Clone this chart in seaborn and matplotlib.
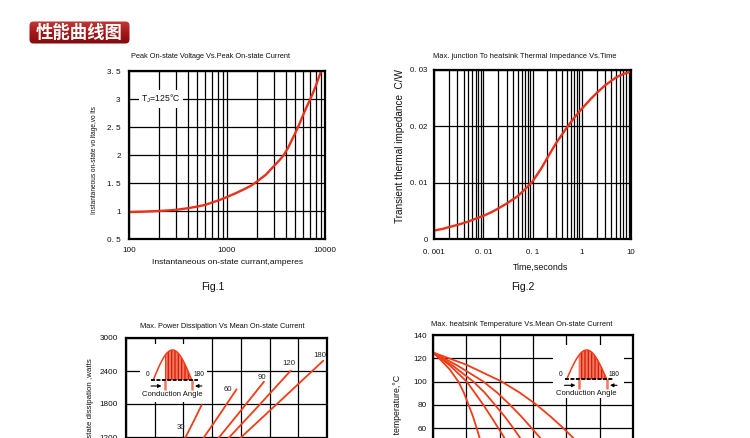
import numpy as np
import pandas as pd
import matplotlib
matplotlib.use("Agg")
import matplotlib.pyplot as plt
import seaborn as sns
from matplotlib.patches import FancyBboxPatch
from matplotlib.colors import LinearSegmentedColormap
from matplotlib.ticker import LogLocator, NullFormatter

# ---- data ----
# Fig.1  peak on-state voltage vs current (log x)
fig1_current = [100, 150, 200, 250, 300, 400, 500, 600, 700, 850, 1000, 1200, 1500, 1750, 2000,
                2500, 3000, 3400, 3800, 4200, 4600, 5000, 5500, 6000, 6500, 7000, 7500, 8000,
                8500, 9000, 9200]
fig1_voltage = [0.98, 0.99, 1.0, 1.01, 1.02, 1.05, 1.08, 1.11, 1.15, 1.2, 1.25, 1.31, 1.39, 1.45,
                1.52, 1.65, 1.8, 1.9, 2.0, 2.13, 2.27, 2.4, 2.56, 2.72, 2.86, 2.98, 3.1, 3.22,
                3.35, 3.47, 3.52]
fig1_yticks = [0.5, 1, 1.5, 2, 2.5, 3, 3.5]
fig1_ylabels = ["0. 5", "1", "1. 5", "2", "2. 5", "3", "3. 5"]
fig1_xticks = [100, 1000, 10000]
fig1_xlabels = ["100", "1000", "10000"]

# Fig.2  transient thermal impedance vs time (log x)
fig2_time = [0.001, 0.0015, 0.002, 0.003, 0.005, 0.007, 0.01, 0.015, 0.02, 0.03, 0.05, 0.07,
             0.1, 0.15, 0.2, 0.3, 0.5, 0.7, 1, 1.5, 2, 3, 5, 7, 10]
fig2_zth = [0.0015, 0.0018, 0.0021, 0.0025, 0.0031, 0.0036, 0.0041, 0.0048, 0.0054, 0.0063,
            0.0076, 0.0088, 0.0102, 0.0125, 0.0144, 0.0170, 0.0198, 0.0215, 0.0231, 0.0248,
            0.0259, 0.0273, 0.0287, 0.0293, 0.0297]
fig2_yticks = [0, 0.01, 0.02, 0.03]
fig2_ylabels = ["0", "0. 01", "0. 02", "0. 03"]
fig2_xticks = [0.001, 0.01, 0.1, 1, 10]
fig2_xlabels = ["0. 001", "0. 01", "0. 1", "1", "10"]

# Fig.3  power dissipation vs mean current, one curve per conduction angle
fig3_angles = ["30", "60", "90", "120", "180"]
fig3_current = [
    [0, 200, 300, 411, 470, 527],
    [0, 200, 400, 538, 650, 770],
    [0, 250, 450, 643, 800, 961],
    [0, 300, 500, 713, 930, 1147],
    [0, 300, 550, 794, 1080, 1374],
]
fig3_power = [
    [0, 380, 680, 1176, 1480, 1782],
    [0, 300, 750, 1176, 1600, 2067],
    [0, 320, 700, 1176, 1680, 2206],
    [0, 340, 680, 1176, 1785, 2406],
    [0, 300, 650, 1176, 1870, 2587],
]
fig3_label_at = [(380, 1376), (713, 2055), (950, 2285), (1131, 2540), (1351, 2690)]
fig3_yticks = [0, 600, 1200, 1800, 2400, 3000]

# Fig.4  heatsink temperature vs mean current
fig4_current = [
    [0, 50, 100, 152, 185, 212, 240, 262, 285, 300],
    [0, 100, 202, 250, 302, 350, 392, 440, 460],
    [0, 120, 242, 310, 372, 430, 482, 540, 560],
    [0, 150, 302, 385, 462, 530, 592, 665, 690],
    [0, 200, 412, 520, 622, 705, 782, 860, 890],
]
fig4_temp = [
    [125, 118, 110.5, 100, 90.5, 80.5, 70, 60, 49, 42],
    [125, 114, 100, 90.5, 80, 69.5, 60, 49, 44],
    [125, 113.5, 100, 90.5, 80, 70, 60, 48, 44],
    [125, 113.5, 100, 90.5, 80, 70, 60, 48, 44],
    [125, 114.5, 100, 90.5, 80, 70, 60, 49, 45],
]
fig4_yticks = [0, 20, 40, 60, 80, 100, 120, 140]

RED = "#e8321c"
RED2 = "#f23c16"
INK = "#111111"

sns.set_style("white")
plt.rcParams["font.family"] = ["Liberation Sans", "DejaVu Sans"]
plt.rcParams["mathtext.default"] = "regular"
plt.rcParams["hatch.linewidth"] = 0.9

W, H = 750, 438
fig = plt.figure(figsize=(7.5, 4.38), dpi=100)
fig.patch.set_facecolor("white")


def px_axes(left, top, right, bottom):
    return fig.add_axes([left / W, 1 - bottom / H, (right - left) / W, (bottom - top) / H])


def txt(x, y, s, size, **kw):
    kw.setdefault("ha", "center")
    kw.setdefault("va", "center")
    fig.text(x / W, 1 - y / H, s, fontsize=size, color=INK, **kw)


def frame(ax, xpad, ypad, size):
    for s in ax.spines.values():
        s.set_visible(True)
        s.set_linewidth(1.6)
        s.set_color("black")
    ax.tick_params(which="both", length=0, labelsize=size, colors=INK)
    ax.tick_params(axis="x", pad=xpad)
    ax.tick_params(axis="y", pad=ypad)
    ax.set_axisbelow(True)
    ax.set_xlabel("")
    ax.set_ylabel("")


def conduction_inset(left, top, right, bottom, x0, yb, w, peak):
    # small white panel with the half-sine conduction angle sketch
    iax = px_axes(left, top, right, bottom)
    iax.set_zorder(5)
    iax.set_facecolor("white")
    iax.set_xlim(0, right - left)
    iax.set_ylim(bottom - top, 0)
    iax.set_xticks([])
    iax.set_yticks([])
    for s in iax.spines.values():
        s.set_visible(False)
    t = np.linspace(0, np.pi, 80)
    xs = x0 + w * t / np.pi
    ys = yb - peak * np.sin(t)
    cut = x0 + 0.3 * w
    m = xs >= cut
    iax.fill_between(xs[m], ys[m], yb, facecolor="#f47a5c", edgecolor="#d8160c",
                     hatch="|||||", linewidth=0)
    iax.plot(xs, ys, color=RED2, lw=1.1)
    for xc in (cut, x0 + w):
        iax.plot([xc, xc], [yb, yb + 10], color="#f2785a", lw=1.8, solid_capstyle="butt")
    iax.plot([x0 - 2, x0 + w + 6], [yb, yb], color="black", lw=1.3, ls=(0, (2.2, 0.8)))
    iax.annotate("", xy=(cut - 0.5, yb + 6), xytext=(x0 - 5, yb + 6),
                 arrowprops=dict(arrowstyle="-|>", color="black", lw=0.8, mutation_scale=5))
    iax.annotate("", xy=(x0 + w + 0.5, yb + 6), xytext=(x0 + w + 13, yb + 6),
                 arrowprops=dict(arrowstyle="-|>", color="black", lw=0.8, mutation_scale=5))
    iax.text(x0 - 6, yb - 5, "0", fontsize=4.8, ha="center", va="center", color=INK)
    iax.text(x0 + w + 7, yb - 5, "180", fontsize=4.8, ha="center", va="center", color=INK)
    iax.text(x0 + w / 2, yb + 14, "Conduction Angle", fontsize=5.5, ha="center", va="center",
             color=INK)


# ---- header badge ----
hax = px_axes(29, 21, 130, 44)
hax.set_xlim(0, 101)
hax.set_ylim(0, 23)
hax.axis("off")
badge = FancyBboxPatch((0.5, 0.5), 100, 22, boxstyle="round,pad=0,rounding_size=4",
                       facecolor="none", edgecolor="none")
hax.add_patch(badge)
grad = np.linspace(0, 1, 60).reshape(-1, 1)
cmap = LinearSegmentedColormap.from_list("badge", ["#850a0c", "#a5181a", "#c23a36"])
im = hax.imshow(grad, extent=(0, 101, 0, 23), aspect="auto", cmap=cmap, origin="lower")
im.set_clip_path(badge)
hax.text(50.5, 11.3, "性能曲线图", color="white", fontsize=12.5, fontweight="bold",
         ha="center", va="center", family=["Noto Sans CJK SC", "DejaVu Sans"])

# ---- Fig.1 ----
ax1 = px_axes(129, 71, 325, 239)
ax1.set_xscale("log")
sns.lineplot(x=fig1_current, y=fig1_voltage, ax=ax1, color=RED, linewidth=1.7)
ax1.set_xlim(100, 10000)
ax1.set_ylim(0.5, 3.5)
ax1.set_yticks(fig1_yticks)
ax1.set_yticklabels(fig1_ylabels)
ax1.set_xticks(fig1_xticks)
ax1.set_xticklabels(fig1_xlabels)
ax1.xaxis.set_minor_locator(LogLocator(base=10, subs=np.arange(2, 10), numticks=20))
ax1.xaxis.set_minor_formatter(NullFormatter())
ax1.grid(axis="x", which="both", color="black", linewidth=0.9)
ax1.grid(axis="y", which="major", color="black", linewidth=0.9)
frame(ax1, 6, 6, 5.9)
ax1.text(133, 3.0, r"T$_J$=125$\degree$C", fontsize=6.2, ha="left", va="center", color=INK,
         bbox=dict(facecolor="white", edgecolor="none", pad=1.8))

txt(210, 57, "Peak On-state Voltage Vs.Peak On-state Current", 5.35)
txt(228, 262, "Instantaneous on-state currant,amperes", 6.1)
txt(94, 160, "Instantaneous on-state vo ltage,vo lts", 4.7, rotation=90)
txt(213, 287, "Fig.1", 7.6)

# ---- Fig.2 ----
ax2 = px_axes(434, 70, 631, 239)
ax2.set_xscale("log")
sns.lineplot(x=fig2_time, y=fig2_zth, ax=ax2, color=RED, linewidth=1.7)
ax2.set_xlim(0.001, 10)
ax2.set_ylim(0, 0.03)
ax2.set_yticks(fig2_yticks)
ax2.set_yticklabels(fig2_ylabels)
ax2.set_xticks(fig2_xticks)
ax2.set_xticklabels(fig2_xlabels)
ax2.xaxis.set_minor_locator(LogLocator(base=10, subs=np.arange(2, 10), numticks=20))
ax2.xaxis.set_minor_formatter(NullFormatter())
ax2.grid(axis="x", which="both", color="black", linewidth=0.9)
ax2.grid(axis="y", which="major", color="black", linewidth=0.9)
frame(ax2, 7, 4.5, 5.7)

txt(525, 56, "Max. junction To heatsink Thermal Impedance Vs.Time", 5.4)
txt(541, 267, "Time,seconds", 6.4)
txt(400, 146, "Transient thermal impedance  C/W", 7.2, rotation=90)
txt(523, 287, "Fig.2", 7.6)

# ---- Fig.3 (cut by the bottom edge) ----
ax3 = px_axes(126, 338, 327, 503)
df3 = pd.DataFrame({
    "current": sum(fig3_current, []),
    "power": sum(fig3_power, []),
    "angle": sum([[a] * len(c) for a, c in zip(fig3_angles, fig3_current)], []),
})
sns.lineplot(data=df3, x="current", y="power", hue="angle", palette=[RED2] * 5,
             legend=False, ax=ax3, linewidth=1.3)
ax3.set_xlim(0, 1400)
ax3.set_ylim(0, 3000)
ax3.set_xticks(np.arange(0, 1401, 200))
ax3.set_xticklabels([])
ax3.set_yticks(fig3_yticks)
ax3.grid(color="black", linewidth=0.9)
frame(ax3, 6, 6, 5.9)
for a, (lx, ly) in zip(fig3_angles, fig3_label_at):
    ax3.text(lx, ly, a, fontsize=5.6, ha="center", va="center", color="#222222")
conduction_inset(140, 344, 207, 402, 13.3, 36, 38.4, 30)

txt(222, 326, "Max. Power Dissipation Vs Mean On-state Current", 5.35)
txt(90, 358, "Mean on-state dissipation ,watts", 5.7, rotation=90, va="top")

# ---- Fig.4 (cut by the bottom edge) ----
ax4 = px_axes(433, 335, 633, 498)
df4 = pd.DataFrame({
    "current": sum(fig4_current, []),
    "temp": sum(fig4_temp, []),
    "angle": sum([[a] * len(c) for a, c in zip(fig3_angles, fig4_current)], []),
})
sns.lineplot(data=df4, x="current", y="temp", hue="angle", palette=[RED2] * 5,
             legend=False, ax=ax4, linewidth=1.3)
ax4.set_xlim(0, 1200)
ax4.set_ylim(0, 140)
ax4.set_xticks(np.arange(0, 1201, 200))
ax4.set_xticklabels([])
ax4.set_yticks(fig4_yticks)
ax4.grid(color="black", linewidth=0.9)
frame(ax4, 6, 4.5, 5.9)
conduction_inset(553, 345, 624, 398, 13.7, 34.3, 40, 29.3)

txt(522, 325, "Max. heatsink Temperature Vs.Mean On-state Current", 5.4)
txt(398, 375, "Heatsink temperature,°C", 6.3, rotation=90, va="top")

fig.savefig("out.png", dpi=100, facecolor="white")
